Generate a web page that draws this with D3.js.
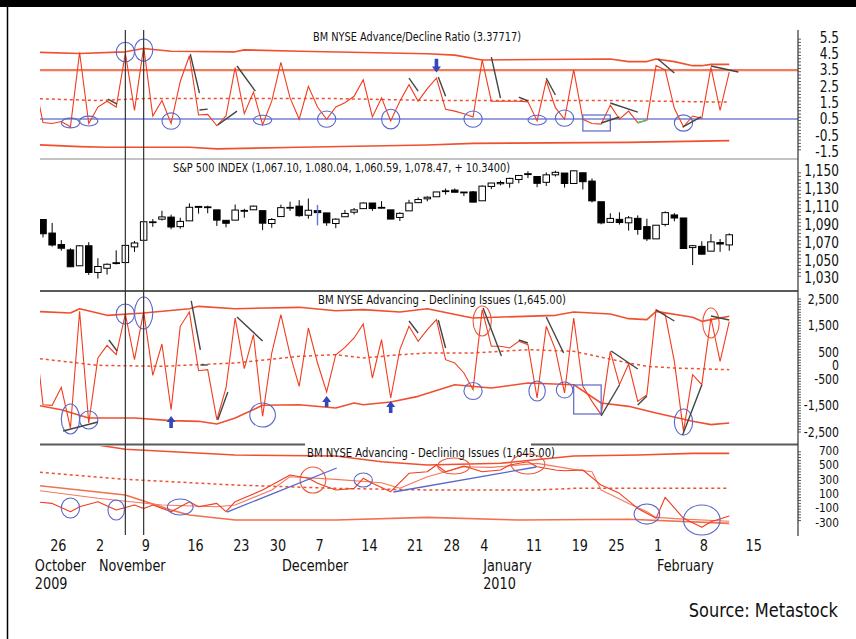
<!DOCTYPE html>
<html><head><meta charset="utf-8">
<script src="https://cdn.jsdelivr.net/npm/d3@7/dist/d3.min.js"></script>
<style>
html,body{margin:0;padding:0;background:#fff;}
svg{display:block;font-family:"DejaVu Sans Condensed","Liberation Sans Narrow","Liberation Sans",sans-serif;}
</style></head><body>
<svg id="chart" width="856" height="639"></svg>
<script>
// ---------------- DATA ----------------
const dates = ["2009-10-22","2009-10-23","2009-10-26","2009-10-27","2009-10-28","2009-10-29","2009-10-30",
"2009-11-02","2009-11-03","2009-11-04","2009-11-05","2009-11-06","2009-11-09","2009-11-10","2009-11-11","2009-11-12","2009-11-13","2009-11-16","2009-11-17","2009-11-18","2009-11-19","2009-11-20","2009-11-23","2009-11-24","2009-11-25","2009-11-27","2009-11-30",
"2009-12-01","2009-12-02","2009-12-03","2009-12-04","2009-12-07","2009-12-08","2009-12-09","2009-12-10","2009-12-11","2009-12-14","2009-12-15","2009-12-16","2009-12-17","2009-12-18","2009-12-21","2009-12-22","2009-12-23","2009-12-24","2009-12-28","2009-12-29","2009-12-30","2009-12-31",
"2010-01-04","2010-01-05","2010-01-06","2010-01-07","2010-01-08","2010-01-11","2010-01-12","2010-01-13","2010-01-14","2010-01-15","2010-01-19","2010-01-20","2010-01-21","2010-01-22","2010-01-25","2010-01-26","2010-01-27","2010-01-28","2010-01-29",
"2010-02-01","2010-02-02","2010-02-03","2010-02-04","2010-02-05","2010-02-08","2010-02-09","2010-02-10","2010-02-11"];

// Panel 1: BM NYSE Advance/Decline Ratio
const adRatio = [3.0, 0.28,0.22,0.34,0.02,4.58,0.22, 1.23,1.59,1.23,4.52,1.03, 4.92,0.68,1.63,0.22,2.80, 4.38,0.74,0.78,0.08,0.68, 3.65,0.82,2.15,0.14, 1.59,
 3.97,1.79,0.48,2.5, 1.23,0.48,1.23,1.49,1.89, 2.9,0.62,1.79,0.38,1.59, 2.6,1.59,2.36,3.0, 1.09,0.98,0.82,0.62,
 4.13,1.59,1.59,1.59,1.59, 1.55,0.38,2.84,1.19,0.48, 3.51,0.48,0.22,0.18, 1.35,0.48,0.98,0.28,0.42,
 3.77,3.51,1.15,0.02,0.68, 0.54,3.67,1.03,3.38];
const ratioUpper = [[0,4.6],[5,4.52],[10,4.62],[12,4.82],[15,4.66],[22,4.62],[23,4.74],[29,4.66],[43,4.5],[46,4.42],[49,4.12],[63,4.18],[65,4.02],[67,4.02],[68,4.18],[70,4.02],[72,3.77],[73,3.77],[74,3.85],[76,3.85]];
const ratioLower = [[0,-1.08],[5,-1.2],[8,-1.24],[17,-1.24],[20,-1.34],[29,-1.24],[43,-1.1],[48,-1.0],[65,-0.94],[76,-0.83]];
const ratioAvg = [[0,1.75],[7,1.63],[12,1.75],[22,1.75],[33,1.75],[44,1.63],[64,1.63],[68,1.59],[76,1.53]];
const ratioHigh = 3.5, ratioLow = 0.5;
const ratioTicks = [5.5,4.5,3.5,2.5,1.5,0.5,-0.5,-1.5];

// Panel 2: S&P 500 daily candles
const spOpen = [1080.4, 1095.6,1080.4,1067.5,1061.5,1043.7,1066.1, 1036.2,1040.9,1047.1,1047.3,1064.9, 1072.3,1092.2,1096.0,1098.3,1087.6, 1094.1,1109.2,1109.4,1106.4,1094.7, 1094.9,1105.8,1106.5,1105.5, 1091.1,
 1098.9,1109.0,1110.6,1100.4, 1105.5,1103.0,1091.1,1098.7,1103.8, 1107.8,1114.1,1108.6,1106.4,1097.9, 1105.3,1114.5,1118.8,1121.1, 1127.5,1128.6,1125.5,1126.6,
 1116.6,1132.7,1135.7,1136.3,1140.5, 1146.0,1143.8,1137.3,1145.7,1147.7, 1136.0,1148.0,1138.7,1115.5, 1092.4,1095.8,1091.9,1096.9,1087.6,
 1073.9,1090.1,1100.7,1097.3,1064.1, 1065.5,1060.1,1069.7,1067.10];
const spHigh = [1095.2, 1095.8,1091.8,1072.5,1063.3,1066.8,1070.2, 1052.2,1046.4,1061.0,1066.7,1071.5, 1093.2,1096.1,1105.4,1101.0,1097.6, 1113.7,1110.5,1111.1,1106.4,1094.7, 1112.4,1107.6,1111.2,1105.5, 1097.2,
 1112.3,1115.6,1117.3,1119.1, 1110.7,1103.0,1097.0,1106.3,1108.5, 1114.8,1114.1,1116.2,1106.4,1103.7, 1117.7,1120.3,1121.6,1126.5, 1130.4,1130.4,1126.4,1127.6,
 1133.9,1136.6,1139.2,1142.5,1145.4, 1149.7,1143.8,1148.4,1150.4,1147.7, 1150.5,1148.0,1141.6,1115.5, 1102.6,1103.7,1099.5,1100.2,1096.5,
 1089.4,1104.7,1102.7,1097.4,1067.1, 1071.2,1079.3,1073.7,1080.04];
const spLow = [1074.3, 1075.5,1065.2,1060.6,1042.2,1043.7,1033.4, 1029.4,1033.9,1045.2,1047.3,1059.3, 1072.3,1087.4,1094.4,1084.7,1085.3, 1094.1,1102.2,1102.7,1088.4,1086.8, 1094.9,1097.6,1106.5,1083.7, 1086.3,
 1098.9,1105.3,1098.7,1096.5, 1100.8,1088.6,1085.9,1098.7,1101.3, 1107.8,1105.3,1107.9,1095.9,1093.9, 1105.3,1114.5,1116.0,1121.1, 1123.5,1126.1,1121.9,1114.8,
 1116.6,1129.7,1133.9,1131.3,1136.2, 1142.0,1131.8,1133.2,1143.8,1131.4, 1135.8,1129.3,1114.8,1090.2, 1092.4,1089.9,1083.1,1078.5,1071.6,
 1073.9,1088.0,1093.6,1062.8,1044.5, 1056.5,1060.1,1059.3,1060.59];
const spClose = [1092.9, 1079.6,1067.0,1063.4,1042.6,1066.1,1036.2, 1042.9,1045.4,1046.5,1066.6,1069.3, 1093.1,1093.0,1098.5,1087.2,1093.5, 1109.3,1110.3,1109.8,1094.9,1091.4, 1106.2,1105.7,1110.6,1091.5, 1095.6,
 1108.9,1109.2,1099.9,1106.0, 1103.3,1091.9,1096.0,1102.4,1106.4, 1114.1,1107.9,1109.2,1096.1,1102.5, 1114.1,1118.0,1120.6,1126.5, 1127.8,1126.2,1126.4,1115.1,
 1133.0,1136.5,1137.1,1141.7,1145.0, 1147.0,1136.2,1145.7,1148.5,1136.0, 1150.2,1138.0,1116.5,1091.8, 1096.8,1092.2,1097.5,1084.5,1073.9,
 1089.2,1103.3,1097.3,1063.1,1066.2, 1056.7,1070.5,1068.1,1078.47];
const spTicks = [1150,1130,1110,1090,1070,1050,1030];

// Panel 3: BM NYSE Advancing - Declining Issues
const advDec = [1600, -1473,-1497,-820,-2350,2037,-2162, 282,759,406,1936,218, 2037,-370,808,-1662,1473, 2011,-195,-158,-2037,-846, 1786,-120,1158,-1910, 470,
 1910,406,-783,1410, 94,-996,406,684,1034, 1560,-470,971,-1222,595, 1473,910,1347,1723, 218,94,-282,-909,
 2099,721,721,658,909, 783,-1222,1473,595,-1034, 1786,-783,-1347,-1849, 533,-721,56,-1347,-1096,
 2099,1910,157,-2475,-345, -721,1786,157,1645];
const adUpper = [[0,2037],[4,1974],[5,2136],[8,1886],[12,1974],[17,2136],[18,2224],[22,2136],[29,2187],[33,2061],[36,2099],[40,2011],[43,2136],[47,1849],[48,1786],[57,1886],[59,2011],[63,1936],[65,1761],[67,1723],[68,2036],[72,1811],[73,1660],[76,1849]];
const adLower = [[0,-1473],[3,-1662],[6,-1974],[11,-1974],[15,-2074],[18,-2099],[20,-2199],[22,-1974],[25,-1497],[29,-1473],[33,-1598],[35,-1410],[36,-1473],[39,-1372],[42,-1160],[46,-721],[50,-846],[54,-658],[59,-721],[62,-1410],[65,-1535],[68,-1786],[72,-2099],[74,-2224],[76,-2162]];
const adAvg = [[0,282],[7,6],[14,-31],[22,94],[29,345],[33,406],[36,282],[40,406],[43,470],[48,470],[54,595],[59,533],[65,94],[67,-31],[70,-94],[76,-157]];
const adTicks = [2500,1500,500,0,-500,-1500,-2500];

// Panel 4: BM NYSE Advancing - Declining Issues (oscillator view)
const oscMain = [[0,-16],[2,-40],[4,-156],[5,-86],[7,-16],[9,-133],[11,-63],[12,-110],[13,-63],[15,-156],[17,-16],[18,-86],[20,-40],[21,-156],[22,-16],[25,147],[27,286],[28,356],[30,310],[31,240],[33,147],[35,170],[36,310],[37,240],[39,123],[41,380],[43,402],[44,496],[45,402],[47,482],[49,402],[51,426],[52,496],[54,542],[55,472],[57,426],[58,416],[60,426],[62,216],[64,100],[66,-110],[68,-249],[69,45],[71,-249],[73,-374],[74,-296],[76,-216]];
const oscSignal = [[0,147],[7,31],[14,-63],[20,-86],[22,-63],[26,147],[28,333],[33,296],[38,249],[40,170],[43,333],[47,472],[50,463],[55,519],[59,435],[61,402],[62,147],[65,-40],[67,-156],[68,-235],[71,-260],[76,-290]];
const oscUpper = [[0,1100],[7,775],[10,715],[22,635],[33,621],[38,542],[43,496],[51,520],[59,621],[66,635],[72,659],[76,659]];
const oscLower = [[0,216],[10,77],[15,-133],[17,-202],[22,-272],[33,-272],[43,-235],[53,-272],[65,-262],[76,-319]];
const oscAvg = [[0,402],[10,296],[22,216],[33,170],[43,147],[55,147],[59,170],[76,170]];
const oscTicks = [700,500,300,100,-100,-300];

// Annotations: [date, value, half-width (days), half-height (value units)]
const ratioCircles = [["2009-10-28",0.25,1,0.3],["2009-10-30",0.37,1,0.3],["2009-11-05",4.61,1,0.6],["2009-11-09",4.73,1,0.68],["2009-11-12",0.37,1,0.5],["2009-11-27",0.43,1,0.3],["2009-12-08",0.49,1,0.5],["2009-12-17",0.49,1,0.6],["2009-12-31",0.49,1,0.5],["2010-01-12",0.43,1,0.3],["2010-01-15",0.55,1,0.5],["2010-02-04",0.25,1,0.5]];
const ratioBoxes = [["2010-01-20","2010-01-25",0.74,-0.24]];
const ratioTrend = [[8.1,1.72,9.1,1.41],[17.1,4.48,18.1,2.08],[18.1,1.05,19,1.1],[20.1,0.13,22.2,0.98],[22.2,3.75,24.2,2.21],[41,3.01,42,2.21],[44.2,3.07,45,1.9],[50,4.3,51,1.78],[53,1.84,54,1.6],[56,3.0,57,1.97],[62,0.25,64,0.62],[63,1.48,66,0.92],[68.2,4.18,70,3.32],[70.9,0.0,72.9,0.62],[74,3.75,77,3.38]];
const ratioTrendGreen = [[66,0.25,67,0.43]];
const ratioArrows = [["2009-12-24",4.2,3.35]];
const spMarks = [["2009-12-07",1112,1089]];
const adCircles = [["2009-10-28",-2011,1,564],["2009-10-30",-2049,1,338],["2009-11-05",1936,1,376],["2009-11-09",1974,1,602],["2009-11-27",-1861,1.4,451],["2009-12-31",-959,1,320],["2010-01-12",-959,0.9,376],["2010-01-15",-921,0.9,300],["2010-02-04",-2124,1,489]];
const adRedCircles = [["2010-01-04",1673,1,564],["2010-02-09",1598,0.9,564]];
const adBoxes = [["2010-01-19","2010-01-22",-733,-1823]];
const adArrows = [["2009-11-12",-2350,-1898],["2009-12-08",-1556,-1147],["2009-12-17",-1786,-1335]];
const adTrend = [[3.2,-2462,7.0,-2124],[8.2,959,9.1,545],[17.2,2425,18.2,583],[18.2,19,19,19],[20.1,-2049,21.2,-996],[22.2,1823,25.0,921],[41,1673,42,1222],[44.2,1711,45,658],[49.1,2162,51.1,357],[53,959,54,846],[56,1823,57.9,470],[62,-1898,64,-733],[63.1,545,66,-132],[66,-1485,67,-1147],[68,2086,70,1673],[70.9,-2613,73,-733],[74,1861,76,1711]];
const oscCircles = [["2009-10-28",-105,1,140],["2009-11-04",-133,0.9,140],["2009-11-13",-91,1.4,112],["2009-12-14",286,1,98],["2010-01-29",-189,1.4,140],["2010-02-08",-272,2,210]];
const oscRedCircles = [[30.5,286,1.4,182],[45.9,482,1.75,112],[54,510,1.85,140]];
const oscTrend = [[21.1,-161,33.1,454],[39.3,119,54.9,468]];
const markerDates = ["2009-11-05","2009-11-09"];

const dayTicks = [["2009-10-26","26"],["2009-11-02","2"],["2009-11-09","9"],["2009-11-16","16"],["2009-11-23","23"],["2009-11-30","30"],["2009-12-07","7"],["2009-12-14","14"],["2009-12-21","21"],["2009-12-28","28"],["2010-01-04","4"],["2010-01-11","11"],["2010-01-19","19"],["2010-01-25","25"],["2010-02-01","1"],["2010-02-08","8"],["2010-02-15","15"]];
const monthTicks = [["2009-10-22","October","2009"],["2009-11-02","November",""],["2009-12-01","December",""],["2010-01-04","January","2010"],["2010-02-01","February",""]];

const titles = {
  ratio: "BM NYSE Advance/Decline Ratio (3.37717)",
  sp: "S&P 500 INDEX (1,067.10, 1.080.04, 1,060.59, 1,078.47, + 10.3400)",
  ad: "BM NYSE Advancing - Declining Issues (1,645.00)",
  osc: "BM NYSE Advancing - Declining Issues (1,645.00)"
};
const source = "Source: Metastock";

// ---------------- DRAW ----------------
const svg = d3.select("#chart");
const defs = svg.append("defs");
const idxOf = d => {
  if (typeof d === "number") return d;
  const k = dates.indexOf(d);
  if (k >= 0) return k;
  let t = new Date(dates[dates.length-1]+"T00:00:00Z"); const end = new Date(d+"T00:00:00Z"); let n = dates.length-1;
  while (t < end) { t = new Date(t.getTime()+86400000); const wd = t.getUTCDay(); if (wd>0 && wd<6) n++; }
  return n;
};
const x = d3.scaleLinear().domain([0, dates.length-1]).range([33.85, 729.25]);
const X = d => x(idxOf(d));
const plotL = 40, plotR = 798;

const yR = d3.scaleLinear().domain([-1.5,5.5]).range([151.5,37.5]);
const yS = d3.scaleLinear().domain([1030,1150]).range([278,171]);
const yA = d3.scaleLinear().domain([-2500,2500]).range([432,299]);
const yO = d3.scaleLinear().domain([-300,700]).range([522,450.4]);

const loc = d3.formatLocale({decimal:".", thousands:",", grouping:[3], currency:["$",""], minus:"-"});
const f1 = loc.format(".1f"), fc = loc.format(",");

svg.append("rect").attr("x",0).attr("y",0).attr("width",856).attr("height",639).attr("fill","#fff");
svg.append("rect").attr("x",0).attr("y",0).attr("width",856).attr("height",7).attr("fill","#000");
svg.append("line").attr("x1",7.5).attr("x2",7.5).attr("y1",7).attr("y2",639).attr("stroke","#000").attr("stroke-width",1.5);

function clipG(id, y0, y1){
  defs.append("clipPath").attr("id",id).append("rect").attr("x",plotL).attr("y",y0).attr("width",plotR-plotL).attr("height",y1-y0);
  return svg.append("g").attr("clip-path",`url(#${id})`);
}
const RED = "#f23c1e", BAND = "#f0502f", BLUE = "#5a66c8", DARK = "#444";

function knotLine(g, data, y, color, w, dash){
  g.append("path").datum(data).attr("fill","none").attr("stroke",color).attr("stroke-width",w)
   .attr("stroke-dasharray",dash||null).attr("stroke-linejoin","round")
   .attr("d", d3.line().x(d=>X(d[0])).y(d=>y(d[1])));
}
function seriesLine(g, vals, y, color, w){
  g.append("path").datum(vals).attr("fill","none").attr("stroke",color).attr("stroke-width",w).attr("stroke-linejoin","miter")
   .attr("d", d3.line().x((d,i)=>x(i)).y(d=>y(d)));
}
function ellipses(g, list, y, color){
  g.selectAll(null).data(list).join("ellipse")
   .attr("cx",d=>X(d[0])).attr("cy",d=>y(d[1]))
   .attr("rx",d=>Math.abs(x(idxOf(d[0])+d[2])-X(d[0]))).attr("ry",d=>Math.abs(y(d[1]-d[3])-y(d[1])))
   .attr("fill","none").attr("stroke",color).attr("stroke-width",1.1);
}
function trends(g, list, y, color, w){
  g.selectAll(null).data(list).join("line")
   .attr("x1",d=>x(d[0])).attr("y1",d=>y(d[1])).attr("x2",d=>x(d[2])).attr("y2",d=>y(d[3]))
   .attr("stroke",color).attr("stroke-width",w||1.4);
}
function boxes(g, list, y){
  g.selectAll(null).data(list).join("rect")
   .attr("x",d=>X(d[0])).attr("y",d=>y(d[2])).attr("width",d=>X(d[1])-X(d[0])).attr("height",d=>y(d[3])-y(d[2]))
   .attr("fill","none").attr("stroke",BLUE).attr("stroke-width",1.2);
}
function arrows(g, list, y){
  list.forEach(d=>{
    const cx = X(d[0]), ya = y(d[1]), yb = y(d[2]);
    const dir = yb > ya ? 1 : -1; const head = 6;
    const shaftEnd = yb - dir*head;
    g.append("path").attr("fill","#3347b8")
     .attr("d",`M${cx-1.8},${ya}L${cx+1.8},${ya}L${cx+1.8},${shaftEnd}L${cx+4.5},${shaftEnd}L${cx},${yb}L${cx-4.5},${shaftEnd}L${cx-1.8},${shaftEnd}Z`);
  });
}
function ntext(parent, tx, ty, str, size, sx, anchor){
  return parent.append("text").attr("transform",`translate(${tx},${ty}) scale(${sx},1)`)
    .attr("text-anchor",anchor||"start").attr("font-size",size).attr("fill","#111").text(str);
}
function rightAxis(y, step, labels, fmt, size){
  const [a,b] = y.domain();
  const minor = d3.range(Math.ceil(a/step)*step, b+step/2, step);
  svg.append("g").selectAll(null).data(minor).join("line")
    .attr("x1",plotR).attr("x2",plotR+3).attr("y1",d=>y(d)).attr("y2",d=>y(d))
    .attr("stroke","#333").attr("stroke-width",0.8);
  const g = svg.append("g");
  labels.forEach(v => ntext(g, 839, y(v)+size*0.36, fmt(v), size, 0.9, "end"));
}
function title(txt, x0, yc, width){
  return svg.append("text").attr("x",x0).attr("y",yc).attr("dy","0.35em").attr("font-size",13).attr("fill","#111")
    .attr("textLength",width).attr("lengthAdjust","spacingAndGlyphs").text(txt);
}

// ---- Panel 1 ----
const g1 = clipG("c1", 20, 158);
knotLine(g1, ratioUpper, yR, BAND, 1.6);
knotLine(g1, ratioLower, yR, BAND, 1.6);
knotLine(g1, ratioAvg, yR, BAND, 1.5, "3,3");
g1.append("line").attr("x1",plotL).attr("x2",plotR).attr("y1",yR(ratioHigh)).attr("y2",yR(ratioHigh)).attr("stroke","#f47a5e").attr("stroke-width",2.2);
g1.append("line").attr("x1",plotL).attr("x2",plotR).attr("y1",yR(ratioLow)).attr("y2",yR(ratioLow)).attr("stroke","#7382d8").attr("stroke-width",1.6);
seriesLine(g1, adRatio, yR, RED, 1.1);
ellipses(g1, ratioCircles, yR, BLUE);
boxes(g1, ratioBoxes, yR);
trends(g1, ratioTrend, yR, DARK, 1.4);
trends(g1, ratioTrendGreen, yR, "#5fbf5f", 1.6);
arrows(g1, ratioArrows, yR);

// ---- Panel 2 ----
const g2 = clipG("c2", 160, 290);
const body = 6.5;
dates.forEach((d,i)=>{
  const cx = x(i);
  g2.append("line").attr("x1",cx).attr("x2",cx).attr("y1",yS(spHigh[i])).attr("y2",yS(spLow[i])).attr("stroke","#000").attr("stroke-width",1);
  const top = yS(Math.max(spOpen[i],spClose[i])), bot = yS(Math.min(spOpen[i],spClose[i]));
  g2.append("rect").attr("x",cx-body/2).attr("y",top).attr("width",body).attr("height",Math.max(0.8,bot-top))
    .attr("fill", spClose[i] < spOpen[i] ? "#000" : "#fff").attr("stroke","#000").attr("stroke-width",1);
});
g2.selectAll(null).data(spMarks).join("line").attr("x1",d=>X(d[0])).attr("x2",d=>X(d[0])).attr("y1",d=>yS(d[1])).attr("y2",d=>yS(d[2])).attr("stroke","#6a78d8").attr("stroke-width",1.5);

// ---- Panel 3 ----
const g3 = clipG("c3", 292, 444);
knotLine(g3, adUpper, yA, BAND, 1.6);
knotLine(g3, adLower, yA, BAND, 1.6);
knotLine(g3, adAvg, yA, BAND, 1.5, "3,3");
seriesLine(g3, advDec, yA, RED, 1.1);
ellipses(g3, adCircles, yA, BLUE);
ellipses(g3, adRedCircles, yA, "#ee5a3c");
boxes(g3, adBoxes, yA);
trends(g3, adTrend, yA, DARK, 1.4);
arrows(g3, adArrows, yA);

// ---- Panel 4 ----
const g4 = clipG("c4", 446, 536);
knotLine(g4, oscUpper, yO, BAND, 1.6);
knotLine(g4, oscLower, yO, "#f2704f", 1.6);
knotLine(g4, oscAvg, yO, BAND, 1.5, "3,3");
knotLine(g4, oscSignal, yO, "#f4785c", 1.1);
knotLine(g4, oscMain, yO, RED, 1.1);
ellipses(g4, oscCircles, yO, BLUE);
ellipses(g4, oscRedCircles, yO, "#ee5a3c");
trends(g4, oscTrend, yO, "#5566cc", 1.3);

// separators
svg.append("line").attr("x1",plotL).attr("x2",plotR).attr("y1",159).attr("y2",159).attr("stroke","#c4c4c4").attr("stroke-width",2);
svg.append("line").attr("x1",plotL).attr("x2",plotR).attr("y1",291).attr("y2",291).attr("stroke","#5a5a5a").attr("stroke-width",2);
svg.append("line").attr("x1",plotL).attr("x2",plotR).attr("y1",444.5).attr("y2",444.5).attr("stroke","#5a5a5a").attr("stroke-width",2);

// vertical markers
svg.selectAll(null).data(markerDates).join("line").attr("x1",d=>X(d)).attr("x2",d=>X(d)).attr("y1",30).attr("y2",535)
  .attr("stroke","#333").attr("stroke-width",1.2);

// titles
title(titles.ratio, 313, 36, 208);
title(titles.sp, 173, 167, 337);
title(titles.ad, 318, 299, 248);
const t4 = title(titles.osc, 307, 452, 248);
const bb = t4.node().getBBox();
svg.insert("rect", function(){ return t4.node(); }).attr("x",bb.x-2).attr("y",442).attr("width",bb.width-22).attr("height",5).attr("fill","#fff");

// right axis
svg.append("line").attr("x1",plotR).attr("x2",plotR).attr("y1",30).attr("y2",536).attr("stroke","#333").attr("stroke-width",1.2);
rightAxis(yR, 0.2, ratioTicks, f1, 15);
rightAxis(yS, 4, spTicks, fc, 15);
rightAxis(yA, 100, adTicks, fc, 13.5);
rightAxis(yO, 40, oscTicks, fc, 13);

// x labels
const gx = svg.append("g");
dayTicks.forEach(d => ntext(gx, X(d[0])-2, 551, d[1], 15.5, 0.92));
monthTicks.forEach(d => { ntext(gx, X(d[0])+1, 571, d[1], 15.5, 0.92); if (d[2]) ntext(gx, X(d[0])+1, 589, d[2], 15.5, 0.92); });
ntext(svg, 838, 617, source, 20, 0.9, "end");
</script></body></html>
